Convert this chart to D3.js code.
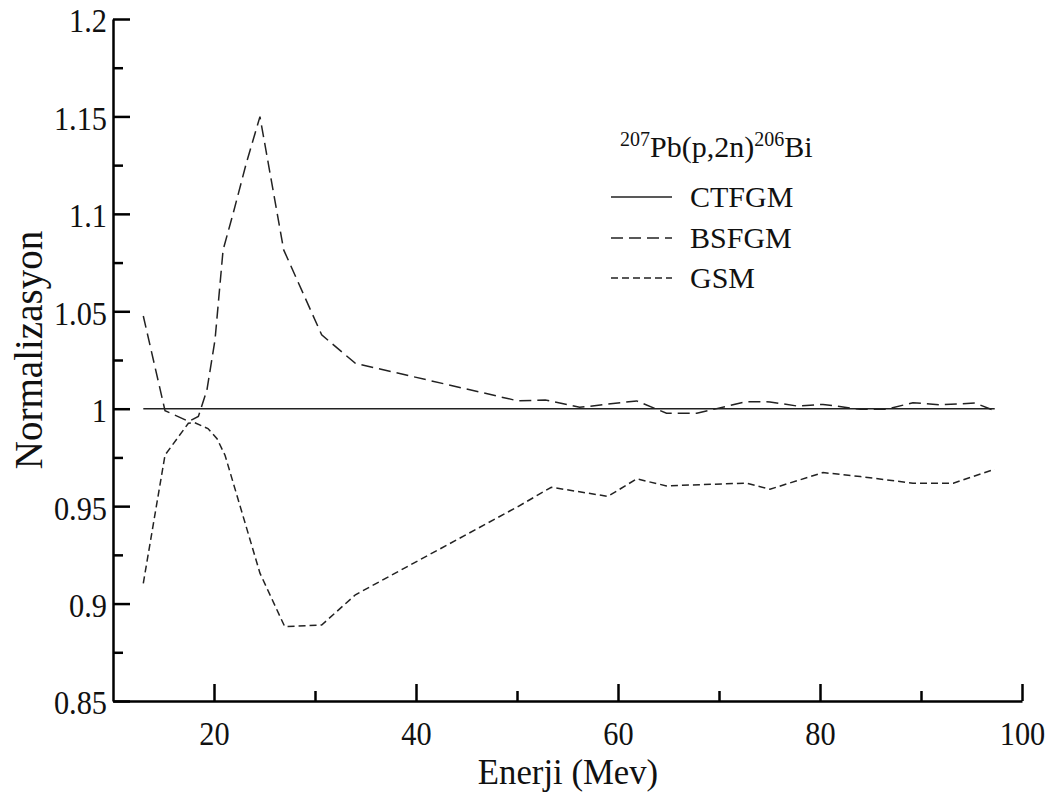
<!DOCTYPE html>
<html>
<head>
<meta charset="utf-8">
<script src="https://cdn.jsdelivr.net/npm/d3@7"></script>
<style>
  html, body { margin: 0; padding: 0; background: #fff; }
  svg text { font-family: "Liberation Serif", "Times New Roman", serif; fill: #111; }
</style>
</head>
<body>
<svg id="chart" width="1051" height="792"></svg>
<script>
// ---- data ----
const energyCTFGM = [13.0, 97.3];
const valueCTFGM  = [1.0, 1.0];

const energyBSFGM = [13.0, 15.15, 17.5, 18.45, 19.3, 20.1, 20.9, 21.9, 23.2, 24.55, 26.9, 30.66, 34.0,
                     50.1, 52.8, 56.2, 61.85, 64.8, 67.8, 72.7, 75.05, 77.7, 80.3, 84.0, 86.6, 89.2, 91.9, 95.35, 97.3];
const valueBSFGM  = [1.0476, 0.999, 0.9935, 0.996, 1.0096, 1.0353, 1.0815, 1.1003, 1.126, 1.1499, 1.0815, 1.0379, 1.0233,
                     1.004, 1.0045, 1.0007, 1.004, 0.9977, 0.9977, 1.0036, 1.0035, 1.0014, 1.0022, 0.9997, 0.9997, 1.0031, 1.002, 1.0029, 0.999];

const energyGSM = [13.0, 15.15, 17.46, 18.1, 19.4, 20.3, 21.1, 24.55, 27.0, 30.66, 34.0, 50.1, 53.4, 59.0, 61.85, 64.8,
                   72.7, 75.05, 80.3, 84.0, 89.2, 93.2, 97.3];
const valueGSM  = [0.9104, 0.9762, 0.9925, 0.9928, 0.9898, 0.9846, 0.976, 0.9156, 0.8882, 0.889, 0.9045, 0.9498, 0.9597, 0.955, 0.964, 0.9604,
                   0.9618, 0.9587, 0.9672, 0.9652, 0.9618, 0.9618, 0.969];

const xMajorTicks = [20, 40, 60, 80, 100];
const xMinorTicks = [30, 50, 70, 90];
const yMajorTicks = [0.85, 0.9, 0.95, 1.0, 1.05, 1.1, 1.15, 1.2];
const yMajorLabels = ["0.85", "0.9", "0.95", "1", "1.05", "1.1", "1.15", "1.2"];
const yMinorTicks = [0.875, 0.925, 0.975, 1.025, 1.075, 1.125, 1.175];

const seriesNames = ["CTFGM", "BSFGM", "GSM"];
const xTitle = "Enerji (Mev)";
const yTitle = "Normalizasyon";

// ---- layout ----
const TSX = 0.92;  // slight horizontal squeeze of the tick lettering
const svg = d3.select("#chart");
const x = d3.scaleLinear().domain([10, 100]).range([113, 1022]);
const y = d3.scaleLinear().domain([0.85, 1.2]).range([701, 19]);

const dashes = { CTFGM: null, BSFGM: "12,6", GSM: "7,4" };
const series = [
  { name: "CTFGM", xs: energyCTFGM, ys: valueCTFGM },
  { name: "BSFGM", xs: energyBSFGM, ys: valueBSFGM },
  { name: "GSM",   xs: energyGSM,   ys: valueGSM }
];

const line = d3.line().x(d => x(d[0])).y(d => y(d[1]));
svg.append("g").selectAll("path").data(series).join("path")
  .attr("d", s => line(s.xs.map((e, i) => [e, s.ys[i]])))
  .attr("fill", "none")
  .attr("stroke", "#222")
  .attr("stroke-width", 1.5)
  .attr("stroke-dasharray", s => dashes[s.name]);

// ---- axes ----
const axisColor = "#000";
function styleAxis(g) {
  g.select(".domain").attr("stroke", axisColor).attr("stroke-width", 2.5);
  g.selectAll(".tick line").attr("stroke", axisColor).attr("stroke-width", 2.5);
}

// x axis
const gx = svg.append("g").attr("transform", `translate(0,${y(0.85)})`)
  .call(d3.axisBottom(x).tickValues(xMajorTicks).tickSize(-17).tickSizeOuter(0).tickPadding(0).tickFormat(d3.format("d")));
styleAxis(gx);
gx.selectAll(".tick text")
  .attr("y", 0).attr("dy", 0)
  .attr("transform", `translate(0,44) scale(${TSX},1)`)
  .attr("font-size", 33).attr("fill", "#111").style("font-family", "Liberation Serif");
const gxm = svg.append("g").attr("transform", `translate(0,${y(0.85)})`)
  .call(d3.axisBottom(x).tickValues(xMinorTicks).tickSize(-10).tickSizeOuter(0).tickFormat(""));
gxm.select(".domain").remove();
styleAxis(gxm);

// y axis
const gy = svg.append("g").attr("transform", `translate(${x(10)},0)`)
  .call(d3.axisLeft(y).tickValues(yMajorTicks).tickSize(-17).tickSizeOuter(0).tickPadding(0)
    .tickFormat((d, i) => yMajorLabels[i]));
styleAxis(gy);
gy.selectAll(".tick text")
  .attr("x", 0).attr("dy", 0).attr("y", 0)
  .attr("dominant-baseline", "central")
  .attr("transform", `translate(-6,2) scale(${TSX},1)`)
  .attr("font-size", 33).attr("fill", "#111").style("font-family", "Liberation Serif");
const gym = svg.append("g").attr("transform", `translate(${x(10)},0)`)
  .call(d3.axisLeft(y).tickValues(yMinorTicks).tickSize(-10).tickSizeOuter(0).tickFormat(""));
gym.select(".domain").remove();
styleAxis(gym);

// axis titles
svg.append("text")
  .attr("transform", `translate(568,784) scale(0.965,1)`)
  .attr("text-anchor", "middle").attr("font-size", 36).text(xTitle);
svg.append("text")
  .attr("transform", `translate(42,350) rotate(-90)`)
  .attr("text-anchor", "middle").attr("font-size", 39).text(yTitle);

// ---- legend ----
const legendTitle = svg.append("text")
  .attr("transform", `translate(620,157)`)
  .attr("font-size", 30);
legendTitle.append("tspan").attr("font-size", 20).attr("dy", -11).text("207");
legendTitle.append("tspan").attr("dy", 11).text("Pb(p,2n)");
legendTitle.append("tspan").attr("font-size", 20).attr("dy", -11).text("206");
legendTitle.append("tspan").attr("dy", 11).text("Bi");

const legendRows = [197, 238, 278];
const lg = svg.append("g");
seriesNames.forEach((name, i) => {
  lg.append("line")
    .attr("x1", 611).attr("x2", 672)
    .attr("y1", legendRows[i]).attr("y2", legendRows[i])
    .attr("stroke", "#222").attr("stroke-width", 1.5)
    .attr("stroke-dasharray", dashes[name]);
  lg.append("text")
    .attr("transform", `translate(690,${legendRows[i] + 10})`)
    .attr("font-size", 30).text(name);
});
</script>
</body>
</html>
